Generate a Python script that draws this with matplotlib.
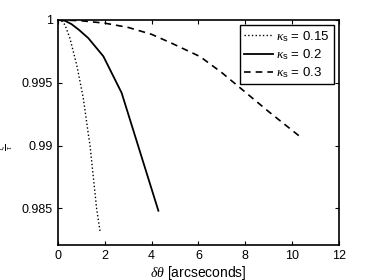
import numpy as np
import matplotlib.pyplot as plt

plt.rcParams['font.family'] = ['Liberation Sans', 'DejaVu Sans']
plt.rcParams['mathtext.fontset'] = 'custom'
plt.rcParams['mathtext.rm'] = 'Liberation Sans'
plt.rcParams['mathtext.it'] = 'Liberation Serif:italic'
plt.rcParams['mathtext.sf'] = 'Liberation Sans'

# kappa_s = 0.15
x_015 = [0, 0.15, 0.30, 0.51, 0.80, 1.08, 1.30, 1.37, 1.65, 1.80]
y_015 = [1, 0.99993, 0.99960, 0.99854, 0.99642, 0.99379, 0.99087, 0.9900, 0.9850, 0.98314]

# kappa_s = 0.2
x_02 = [0, 0.3, 0.58, 0.9, 1.30, 1.94, 2.72, 4.29]
y_02 = [1, 0.99993, 0.99966, 0.99920, 0.99854, 0.99710, 0.99419, 0.98481]

# kappa_s = 0.3
x_03 = [0, 1, 2, 3, 4, 4.86, 6.07, 7, 8.06, 9, 10.34]
y_03 = [1, 0.99993, 0.99974, 0.99940, 0.99885, 0.99814, 0.99708, 0.9958, 0.99416, 0.9927, 0.99071]

yticks = [0.985, 0.99, 0.995, 1]
ytick_labels = ['0.985', '0.99', '0.995', '1']

fig = plt.figure(figsize=(3.74, 2.80), dpi=100)
ax = fig.add_axes([0.155, 0.124, 0.751, 0.805])

ax.plot(x_015, y_015, color='k', linestyle=':', lw=1.0, label=r'$\kappa_{\mathsf{s}}$ = 0.15')
ax.plot(x_02, y_02, color='k', linestyle='-', lw=1.3, label=r'$\kappa_{\mathsf{s}}$ = 0.2')
ax.plot(x_03, y_03, color='k', linestyle=(0, (4, 3)), lw=1.2, label=r'$\kappa_{\mathsf{s}}$ = 0.3')

ax.set_xlim(0, 12)
ax.set_ylim(0.98206, 1)
ax.set_xticks([0, 2, 4, 6, 8, 10, 12])
ax.set_yticks(yticks)
ax.set_yticklabels(ytick_labels)
ax.tick_params(direction='in', top=True, right=True, labelsize=9, length=3, width=0.8)
for s in ax.spines.values():
    s.set_linewidth(1.2)

ax.set_xlabel(r'$\delta\theta$ [arcseconds]', fontsize=10, labelpad=1)
# small rotated fraction as y label
fig.text(0.018, 0.475, r'$\frac{\tau_s}{\tau}$', fontsize=8, rotation=90,
         ha='center', va='center')

leg = ax.legend(loc='upper right', fontsize=9.5, handlelength=2.2, handletextpad=0.2,
                borderpad=0.3, labelspacing=0.25, fancybox=False, framealpha=1,
                borderaxespad=0.4)
leg.get_frame().set_edgecolor('k')
leg.get_frame().set_linewidth(1.0)

fig.savefig('out.png', dpi=100)
